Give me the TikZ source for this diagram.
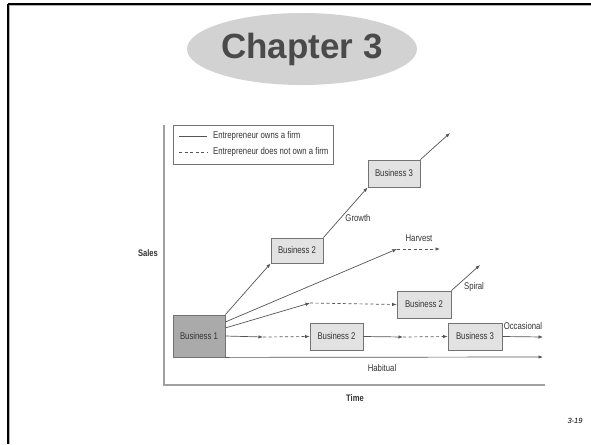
\documentclass[tikz,border=0pt]{standalone}
\usepackage{fontspec}
\setmainfont{Liberation Sans}
\newfontfamily\condfont[FakeStretch=0.8]{Liberation Sans}
\usetikzlibrary{arrows.meta,shapes.geometric}

\definecolor{boxgray}{RGB}{226,226,226}
\definecolor{darkbox}{RGB}{170,170,170}
\definecolor{linegray}{RGB}{85,85,85}
\definecolor{framegray}{RGB}{160,160,160}
\definecolor{titlegray}{RGB}{74,74,74}
\definecolor{ovalgray}{RGB}{210,210,210}

\begin{document}
\begin{tikzpicture}[x=1pt,y=-1pt,
    bizbox/.style={draw=gray!90!black, line width=0.8pt, fill=boxgray, inner sep=0pt,
        minimum width=52pt, minimum height=27pt, font=\condfont\fontsize{9.7}{10}\selectfont, text=black!80},
    lbl/.style={inner sep=0pt, font=\condfont\fontsize{9.7}{10}\selectfont, text=black!80},
    flow/.style={draw=linegray, line width=0.7pt, -{Latex[length=4.5pt,width=3.5pt]}},
    dflow/.style={flow, dash pattern=on 3pt off 2.5pt}]
    \useasboundingbox (0,0) rectangle (591,444);
    % slide frame
    \draw[line width=1pt, gray!60] (9.2,6) -- (591,6);
    \draw[line width=1pt, gray!60] (9.2,6) -- (9.2,444);
    \draw[line width=2pt, black] (7.7,4.3) -- (591,4.3);
    \draw[line width=2pt, black] (7.7,4.3) -- (7.7,444);
    % title
    \node[ellipse, fill=ovalgray, minimum width=230pt, minimum height=72pt, inner sep=0pt] (title) at (302,49) {};
    \node[font=\bfseries\fontsize{35}{36}\selectfont, text=titlegray, inner sep=0pt] (titletxt) at (302,49.5) {Chapter 3};
    % axes
    \draw[line width=1.2pt, framegray] (164,125) -- (164,385) -- (545,385);
    \node[inner sep=0pt, font=\bfseries\condfont\fontsize{9.5}{10}\selectfont, text=black!80] (sales) at (148,253) {Sales};
    \node[inner sep=0pt, font=\bfseries\condfont\fontsize{9.5}{10}\selectfont, text=black!80] (time) at (355,398) {Time};
    % legend
    \draw[line width=0.8pt, gray!90!black] (173,125) rectangle (333,164);
    \draw[line width=0.7pt, linegray] (179,136) -- (207,136);
    \draw[line width=0.7pt, linegray, dash pattern=on 3pt off 2.5pt] (179,152) -- (207,152);
    \node[lbl, anchor=west] (leg1) at (213,136) {Entrepreneur owns a firm};
    \node[lbl, anchor=west] (leg2) at (213,152) {Entrepreneur does not own a firm};
    % businesses
    \node[bizbox, fill=darkbox, minimum height=42pt] (b1) at (199,336) {Business 1};
    \node[bizbox, minimum height=25pt] (b2g) at (297,250.5) {Business 2};
    \node[bizbox] (b3g) at (394,173.5) {Business 3};
    \node[bizbox, minimum width=54pt] (b2s) at (424,304.5) {Business 2};
    \node[bizbox, minimum width=53pt] (b2o) at (336.5,336.5) {Business 2};
    \node[bizbox, minimum width=54pt] (b3o) at (475,336.5) {Business 3};
    % turning points and free ends
    \coordinate (eg) at (450,133);
    \coordinate (mh) at (397,249);
    \coordinate (eh) at (440,249);
    \coordinate (ms) at (310,303);
    \coordinate (es) at (480,265);
    \coordinate (mo1) at (263,337);
    \coordinate (mo2) at (403,337);
    \coordinate (eo) at (543,337);
    \coordinate (ehab) at (543,357);
    % growth
    \draw[flow] (b1.north east) -- (b2g.south west);
    \draw[flow] (b2g.north east) -- (b3g.south west);
    \draw[flow] (b3g.north east) -- (eg);
    % harvest
    \draw[flow] (b1.28) -- (mh);
    \draw[dflow] (mh) -- (eh);
    % spiral
    \draw[flow] (b1.17) -- (ms);
    \draw[dflow] (ms) -- (b2s.west);
    \draw[flow] (b2s.north east) -- (es);
    % occasional
    \draw[flow] (b1.east) -- (mo1);
    \draw[dflow] (mo1) -- (b2o.west);
    \draw[flow] (b2o.east) -- (mo2);
    \draw[dflow] (mo2) -- (b3o.west);
    \draw[flow] (b3o.east) -- (eo);
    % habitual
    \draw[flow] (b1.south east) -- (ehab);
    % labels
    \node[lbl] (growth) at (358,218) {Growth};
    \node[lbl] (harvest) at (419,238) {Harvest};
    \node[lbl] (spiral) at (474,287) {Spiral};
    \node[lbl] (occasional) at (523,326) {Occasional};
    \node[lbl] (habitual) at (382,368) {Habitual};
    \node[inner sep=0pt, font=\itshape\fontsize{7.5}{8}\selectfont] (page) at (575,421) {3-19};
\end{tikzpicture}
\end{document}
